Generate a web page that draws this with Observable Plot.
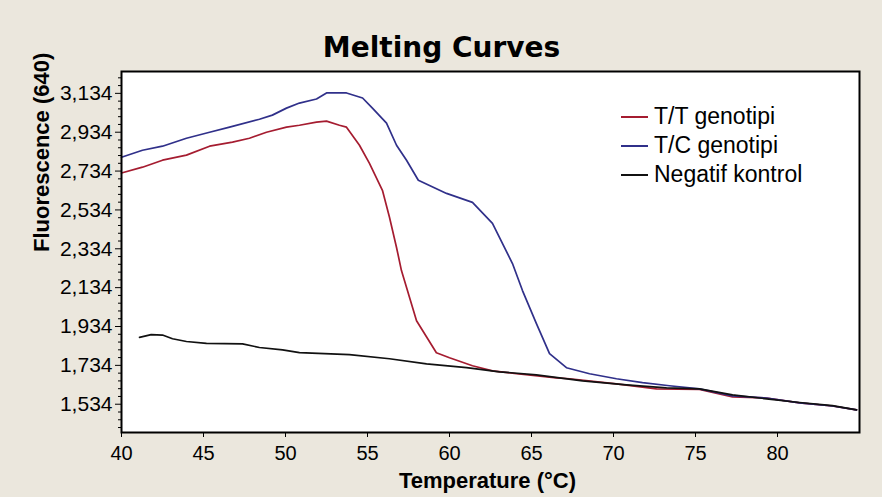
<!DOCTYPE html>
<html><head><meta charset="utf-8">
<script src="https://cdn.jsdelivr.net/npm/d3@7"></script>
<script src="https://cdn.jsdelivr.net/npm/@observablehq/plot@0.6"></script>
<style>
html,body{margin:0;padding:0;background:#ebe7dd;}
#wrap{position:relative;width:882px;height:497px;overflow:hidden;background:#ebe7dd;}
#wrap svg{display:block;}
#legend{position:absolute;left:621px;top:102px;font-family:"Liberation Sans",Arial,sans-serif;font-size:23px;color:#000;}
.row{display:flex;align-items:center;height:29px;white-space:nowrap;}
.sw{width:27px;height:2px;margin-right:6px;}
</style></head><body>
<div id="wrap"><div id="legend"></div></div>
<script>
const seriesNames = ["T/T genotipi", "T/C genotipi", "Negatif kontrol"];
const seriesColors = ["#a51c30", "#30308a", "#111111"];

const ttTemp = [40.0,41.28,42.5,43.96,45.37,46.77,47.8,48.84,50.06,50.85,51.89,52.5,53.29,53.72,54.51,55.12,55.91,56.34,56.77,57.07,57.99,59.2,60.0,61.4,62.62,64.09,66.52,67.32,70.18,72.62,75.24,77.26,79.33,81.34,83.35,84.82];
const ttFluor = [2724,2754,2790,2816,2862,2883,2903,2934,2960,2970,2986,2991,2970,2960,2867,2774,2635,2496,2341,2222,1964,1799,1773,1732,1706,1691,1670,1665,1639,1613,1610,1572,1566,1541,1525,1505];

const tcTemp = [40.0,41.28,42.5,43.96,45.37,46.59,48.41,49.2,50.06,50.85,51.89,52.5,53.72,54.7,55.3,56.16,56.77,57.38,58.1,59.82,61.4,62.62,63.84,64.45,65.3,66.1,67.13,68.54,70.18,71.77,73.41,75.24,77.26,79.33,81.34,83.35,84.82];
const tcFluor = [2805,2841,2862,2903,2934,2960,3001,3022,3058,3084,3105,3136,3136,3110,3058,2981,2867,2790,2687,2619,2573,2465,2258,2119,1949,1794,1722,1691,1665,1645,1629,1613,1577,1566,1541,1525,1505];

const negTemp = [41.1,41.81,42.5,43.11,43.96,45.18,47.38,48.41,49.82,50.85,53.9,56.34,58.6,61.04,63.05,65.3,68.11,70.79,73.23,75.24,77.26,79.33,81.34,83.35,84.82];
const negFluor = [1878,1892,1890,1871,1857,1847,1845,1826,1814,1800,1789,1768,1742,1722,1701,1685,1654,1634,1618,1613,1582,1562,1543,1527,1505];

const xTicks = [40,45,50,55,60,65,70,75,80];
const yTicks = [1534,1734,1934,2134,2334,2534,2734,2934,3134];
const yMinorTicks = d3.range(1414, 3246, 40).filter(v => !yTicks.includes(v));

const titleText = "Melting Curves";
const xLabel = "Temperature (°C)";
const yLabel = "Fluorescence (640)";

const data = [];
[[ttTemp, ttFluor], [tcTemp, tcFluor], [negTemp, negFluor]].forEach(([ts, vs], i) => {
  ts.forEach((t, j) => data.push({series: seriesNames[i], t, v: vs[j]}));
});

const plot = Plot.plot({
  width: 882, height: 497,
  marginLeft: 121, marginRight: 23, marginTop: 71, marginBottom: 65,
  style: {background: "transparent", fontFamily: "'Liberation Sans', Arial, sans-serif", color: "#000", overflow: "visible"},
  x: {domain: [40, 85]},
  y: {domain: [1388.5, 3246.5]},
  color: {domain: seriesNames, range: seriesColors},
  marks: [
    Plot.frame({fill: "#ffffff"}),
    Plot.line(data, {x: "t", y: "v", z: "series", stroke: "series", strokeWidth: 1.7}),
    Plot.frame({stroke: "#000", strokeWidth: 2}),
    Plot.axisY(yMinorTicks, {tickSize: 3, tickFormat: () => "", label: null}),
    Plot.axisY(yTicks, {tickSize: 6, tickPadding: 3, tickFormat: d3.format(","), fontSize: 21, label: null}),
    Plot.axisX(xTicks, {tickSize: 5, tickPadding: 8, fontSize: 20, label: null}),
    Plot.text([yLabel], {text: d => d, frameAnchor: "left", dx: -80, rotate: -90, fontSize: 22, fontWeight: "bold"}),
    Plot.text([xLabel], {text: d => d, frameAnchor: "bottom", dx: -3, dy: 55, fontSize: 22, fontWeight: "bold"}),
    Plot.text([titleText], {text: d => d, frameAnchor: "top", dx: -49, dy: -34, fontSize: 28, fontWeight: "bold", fontFamily: "DejaVu Sans"})
  ]
});

const wrap = document.getElementById("wrap");
const legend = document.getElementById("legend");
wrap.insertBefore(plot, legend);
seriesNames.forEach((name, i) => {
  const row = document.createElement("div");
  row.className = "row";
  const sw = document.createElement("span");
  sw.className = "sw";
  sw.style.background = seriesColors[i];
  const tx = document.createElement("span");
  tx.textContent = name;
  row.appendChild(sw); row.appendChild(tx);
  legend.appendChild(row);
});
</script>
</body></html>
